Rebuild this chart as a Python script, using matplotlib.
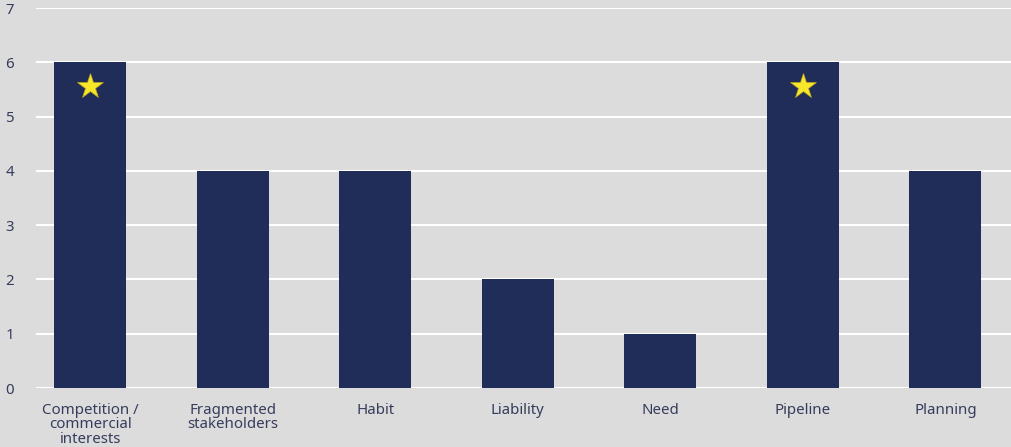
import matplotlib
matplotlib.use("Agg")
import matplotlib.pyplot as plt

categories = ["Competition /\ncommercial\ninterests", "Fragmented\nstakeholders", "Habit",
              "Liability", "Need", "Pipeline", "Planning"]
values = [6, 4, 4, 2, 1, 6, 4]
starred = [True, False, False, False, False, True, False]

bg = "#dcdcdc"
bar_color = "#212d59"
text_color = "#363c5c"

plt.rcParams['font.family'] = ['Noto Sans', 'DejaVu Sans']

fig = plt.figure(figsize=(10.11, 4.47), dpi=100, facecolor=bg)
ax = fig.add_axes([36 / 1011, 59 / 447, 1 - 36 / 1011, 380 / 447], facecolor=bg)
ax.set_axisbelow(True)

x = list(range(len(categories)))
ax.bar(x, values, width=0.505, color=bar_color, zorder=2)

# stars on top bars
for xi, v, s in zip(x, values, starred):
    if s:
        ax.plot(xi, v - 0.44, marker='*', markersize=19, color='#f7e62a',
                markeredgecolor='#b8a820', markeredgewidth=0.5, zorder=3)

ax.set_xlim(-0.38, 6.46)
ax.set_ylim(0, 7)
ax.set_yticks(range(0, 8))
ax.set_xticks(x)
ax.set_xticklabels(categories, fontsize=10.8, color=text_color, linespacing=0.92)
ax.tick_params(axis='y', labelsize=10.8, colors=text_color, length=0, pad=16)
ax.tick_params(axis='x', length=0, pad=11)
ax.grid(axis='y', color='white', lw=1.5, zorder=0)
for spine in ('top', 'right', 'bottom', 'left'):
    ax.spines[spine].set_visible(False)

fig.savefig('out.png', dpi=100, facecolor=bg)
